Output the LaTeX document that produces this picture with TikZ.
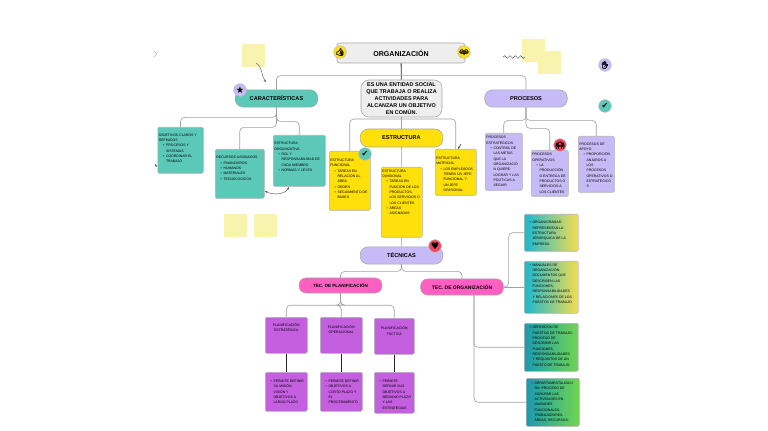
\documentclass[tikz,border=0pt]{standalone}
\usepackage{fontspec}
\setmainfont{Liberation Sans}
\newfontfamily\symfont{DejaVu Sans}
\newfontfamily\emojifont[FakeBold=3]{Noto Emoji}
\usetikzlibrary{arrows.meta, positioning, calc, decorations.pathmorphing}
\definecolor{tealc}{HTML}{5CC8B8}
\definecolor{lilac}{HTML}{C6BBF6}
\definecolor{sunny}{HTML}{FFE00A}
\definecolor{violetc}{HTML}{C45FE0}
\definecolor{pinkc}{HTML}{FF5FC0}
\definecolor{stickyc}{HTML}{F9F3B0}
\definecolor{greyc}{HTML}{EEEEEE}
\definecolor{redc}{HTML}{F4475F}
\definecolor{warmleft}{HTML}{1BB8CF}
\definecolor{warmright}{HTML}{F7DC4F}
\definecolor{coolleft}{HTML}{1A9AB0}
\definecolor{coolright}{HTML}{70D650}
% card text: outer width and height in px, top gap in pt, then the lines
\newcommand{\cardtext}[4]{\parbox[c][\dimexpr#2pt*3/4-1.6pt\relax][t]{\dimexpr#1pt*3/4-1.6pt\relax}{\fontsize{2.6}{4}\selectfont\raggedright\let\\\newline\vspace*{#3pt}#4}}
\newcommand{\bul}[1][3.2pt]{\par\hangindent=\dimexpr#1+2.2pt\relax\hangafter=1\hspace*{#1}\makebox[2.2pt][l]{\textbullet}}
\tikzset{
  pill/.style={draw=gray!70, rounded corners=6pt, minimum width=62pt, minimum height=13pt, inner sep=0pt, font=\bfseries\fontsize{4.2}{5}\selectfont},
  card/.style={draw=gray!60, rounded corners=1pt, inner sep=0.8pt, anchor=north west},
  tealcard/.style={card, fill=tealc},
  yellowcard/.style={card, fill=sunny},
  lilaccard/.style={card, fill=lilac},
  violetcard/.style={card, fill=violetc},
  warmcard/.style={card, left color=warmleft, right color=warmright},
  coolcard/.style={card, left color=coolleft, right color=coolright},
  sticky/.style={fill=stickyc, minimum width=17.25pt, minimum height=17.25pt, inner sep=0pt},
  badge/.style={circle, draw=gray!50, minimum size=9.5pt, inner sep=0pt, font=\fontsize{5.5}{5.5}\selectfont},
  link/.style={draw=gray!75, line width=0.45pt, rounded corners=3pt},
  stem/.style={draw=black!85, line width=0.6pt},
  note/.style={draw=black!70, line width=0.3pt, -{Stealth[length=2pt]}}
}
\begin{document}
\begin{tikzpicture}[x=0.75pt,y=-0.75pt]
\useasboundingbox (0,0) rectangle (768,431);
% Sticky notes
\foreach \n/\sx/\sy in {a/253.5/56,b/235.5/225.5,c/265.5/225.5,d/533.5/51,e/549.5/63} {
    \node[sticky] (sticky\n) at (\sx,\sy) {};
}
% Title and definition
\node[pill, fill=greyc, rounded corners=2pt, minimum width=96pt, minimum height=15pt, font=\bfseries\fontsize{5.3}{5}\selectfont] (org) at (401,53) {ORGANIZACIÓN};
\node[draw=gray!70, fill=greyc, rounded corners=6pt, minimum width=60.75pt, minimum height=27.75pt, inner sep=0pt, align=center, font=\bfseries\fontsize{4.1}{5.2}\selectfont] (defn) at (401.5,98.5) {ES UNA ENTIDAD SOCIAL\\QUE TRABAJA O REALIZA\\ACTIVIDADES PARA\\ALCANZAR UN OBJETIVO\\EN COMÚN.};
% Main branches
\node[pill, fill=tealc] (caract) at (276.5,98.5) {CARACTERÍSTICAS};
\node[pill, fill=lilac] (procesos) at (526,98.5) {PROCESOS};
\node[pill, fill=sunny, minimum height=13.5pt] (estructura) at (401.5,138) {ESTRUCTURA};
\node[pill, fill=lilac] (tecnicas) at (401.5,255.5) {TÉCNICAS};
\node[pill, fill=pinkc, minimum height=11.25pt, rounded corners=5pt, font=\bfseries\fontsize{3.4}{4}\selectfont] (tecplan) at (340.5,285.5) {TEC. DE PLANIFICACIÓN};
\node[pill, fill=pinkc, minimum height=12pt, rounded corners=5pt, font=\bfseries\fontsize{3.75}{4}\selectfont] (tecorg) at (462,287) {TEC. DE ORGANIZACIÓN};
% Caracteristicas cards
\node[tealcard] (objetivos) at (157.5,127) {\cardtext{45.5}{46}{4}{OBJETIVOS CLAROS Y\\DEFINIDOS\bul PROCESOS Y\\SISTEMAS\bul COORDINAR EL\\TRABAJO}};
\node[tealcard] (recursos) at (215,149) {\cardtext{49}{49}{4.5}{RECURSOS ASIGNADOS\bul FINANCIEROS\bul HUMANOS\bul MATERIALES\bul TECNOLOGICOS}};
\node[tealcard] (estorg) at (273,135) {\cardtext{52}{51}{4.5}{ESTRUCTURA\\ORGANIZATIVA\bul ROL Y\\RESPONSABILIDAD DE\\CADA MIEMBRO\bul NORMAS Y LEYES}};
% Estructura cards
\node[yellowcard] (funcional) at (329,151) {\cardtext{41}{59}{5}{ESTRUCTURA\\FUNCIONAL\bul TAREAS EN\\RELACIÓN AL\\ÁREA\bul ORDEN\bul SEGUIMIENTO DE\\BASES}};
\node[yellowcard] (divisional) at (381,167) {\cardtext{41}{70}{1}{ESTRUCTURA\\DIVISIONAL\bul TAREAS EN\\FUNCIÓN DE LOS\\PRODUCTOS,\\LOS SERVICIOS O\\LOS CLIENTES\bul ÁREAS\\ASIGNADAS}};
\node[yellowcard] (matricial) at (435,149) {\cardtext{41}{46}{5}{ESTRUCTURA\\MATRICIAL\bul LOS EMPLEADOS\\TIENEN UN JEFE\\FUNCIONAL Y\\UN JEFE\\DIVISIONAL}};
% Procesos cards
\node[lilaccard] (estrat) at (485,133) {\cardtext{37}{57}{1.5}{PROCESOS\\ESTRATÉGICOS\bul CONTROL DE\\LAS METAS\\QUE LA\\ORGANIZACIÓ\\N QUIERE\\LOGRAR Y LAS\\POLÍTICAS A\\SEGUIR}};
\node[lilaccard] (operat) at (531,150) {\cardtext{37}{46}{1.5}{PROCESOS\\OPERATIVOS\bul LA\\PRODUCCIÓN\\O ENTREGA DE\\PRODUCTOS O\\SERVICIOS A\\LOS CLIENTES}};
\node[lilaccard] (apoyo) at (578,136) {\cardtext{36}{56}{4}{PROCESOS DE\\APOYO\bul PROPORCIÓN\\ANJAROS A\\LOS\\PROCESOS\\OPERATIVOS O\\ESTRATÉGICO\\S}};
% Planificacion cards
\node[violetcard] (planest) at (265,317) {\cardtext{42}{36}{3.5}{\centering PLANIFICACIÓN\\ESTRATÉGICA}};
\node[violetcard] (planop) at (320,317) {\cardtext{42}{36}{5}{\centering PLANIFICACIÓN\\OPERACIONAL}};
\node[violetcard] (plantac) at (374,318) {\cardtext{40}{36}{5.5}{\centering PLANIFICACIÓN\\TÁCTICA}};
\node[violetcard] (detest) at (265,372) {\cardtext{42}{39}{5}{\bul PERMITE DEFINIR\\SU MISIÓN,\\VISIÓN Y\\OBJETIVOS A\\LARGO PLAZO}};
\node[violetcard] (detop) at (320,372) {\cardtext{42}{39}{5}{\bul PERMITE DEFINIR\bul OBJETIVOS A\\CORTO PLAZO Y\\EL\\PROCEDIMIENTO}};
\node[violetcard] (dettac) at (374,372) {\cardtext{40}{41}{5}{\bul PERMITE\\DEFINIR SUS\\OBJETIVOS A\\MEDIANO PLAZO\\Y LAS\\ESTRATEGIAS}};
% Organizacion cards
\node[warmcard] (organig) at (524,214) {\cardtext{54}{37}{4.5}{\bul ORGANIGRAMAS:\\REPRESENTAN LA\\ESTRUCTURA\\JERÁRQUICA DE LA\\EMPRESA}};
\node[warmcard] (manuales) at (524,261) {\cardtext{54}{52}{1}{\bul MANUALES DE\\ORGANIZACIÓN:\\DOCUMENTOS QUE\\DESCRIBEN LAS\\FUNCIONES,\\RESPONSABILIDADES\\Y RELACIONES DE LOS\\PUESTOS DE TRABAJO}};
\node[coolcard] (puestos) at (524,323) {\cardtext{54}{48}{1}{\bul DEFINICIÓN DE\\PUESTOS DE TRABAJO:\\PROCESO DE\\DESCRIBIR LAS\\FUNCIONES,\\RESPONSABILIDADES\\Y REQUISITOS DE UN\\PUESTO DE TRABAJO.}};
\node[coolcard] (depto) at (526,378) {\cardtext{53}{48}{2}{\bul DEPARTAMENTALIZACI\\ÓN: PROCESO DE\\AGRUPAR LAS\\ACTIVIDADES EN\\UNIDADES\\FUNCIONALES,\\TRABAJADORES,\\ÁREAS, RECURSOS.}};
% Connectors
\draw[stem] (org) -- (defn);
\draw[link] (caract.north) -- ++(0,-14) -| (procesos.north);
\draw[link] (funcional.north) -- ++(0,-32) -| (matricial.north);
\draw[link] (defn) -- (estructura);
\draw[link] (estructura) -- (divisional);
\draw[link] (divisional) -- (tecnicas);
\foreach \c/\d in {objetivos/10,recursos/20,estorg/14} {
    \draw[link] (caract.south) -- ++(0,\d) -| (\c.north);
}
\foreach \c/\d in {estrat/13,operat/21,apoyo/13} {
    \draw[link] (procesos.south) -- ++(0,\d) -| (\c.north);
}
\draw[link] (tecnicas.south) -- ++(0,7) -| (tecplan.north);
\draw[link] (tecnicas.south) -- ++(0,7) -| (tecorg.north);
\foreach \c/\d in {planest/12,planop/12,plantac/12} {
    \draw[link] (tecplan.south) -- ++(0,\d) -| (\c.north);
}
\draw[stem] (planest) -- (detest);
\draw[stem] (planop) -- (detop);
\draw[stem] (plantac) -- (dettac);
\draw[link] (tecorg.east) -- ++(5,0) |- (organig.west);
\draw[link] (tecorg.east) -- (manuales.west |- tecorg.east);
\draw[link] ([xshift=9pt]tecorg.south) |- (puestos.west);
\draw[link] ([xshift=9pt]tecorg.south) |- (depto.west);
% Badges
\node[badge, fill=sunny, font=\emojifont\fontsize{5.5}{5.5}\selectfont] (thumb) at (340,52) {👍};
\node[badge, fill=sunny, font=\emojifont\fontsize{5.5}{5.5}\selectfont] (people) at (464,52) {👫};
\node[badge, fill=lilac, font=\symfont\fontsize{7}{7}\selectfont] (star) at (240,90) {★};
\node[badge, fill=tealc, font=\symfont\fontsize{6}{6}\selectfont] (check) at (365,154) {✔};
\node[badge, fill=redc, font=\symfont\fontsize{7}{7}\selectfont] (heart) at (435,246) {♥};
\node[badge, fill=redc, font=\emojifont\fontsize{5.5}{5.5}\selectfont] (crowd) at (560,145) {🙌};
\node[badge, fill=lilac, font=\emojifont\fontsize{5.5}{5.5}\selectfont] (hand) at (605,65) {✋};
\node[badge, fill=tealc, font=\symfont\fontsize{6}{6}\selectfont] (checkb) at (605,106) {✔};
% Hand drawn marks
\coordinate (notea) at (256,63);
\coordinate (noteb) at (266,82);
\coordinate (notec) at (265,191);
\coordinate (noted) at (289,187);
\coordinate (notee) at (503,57);
\coordinate (notef) at (525,57);
\coordinate (noteg) at (461,144);
\coordinate (noteh) at (458,149);
\coordinate (notei) at (155,164);
\coordinate (notej) at (157,167);
\draw[note] (notea) .. controls (263,67) and (261,76) .. (noteb);
\draw[note, {Stealth[length=2pt]}-{Stealth[length=2pt]}] (notec) .. controls (272,195) and (285,195) .. (noted);
\draw[draw=black!70, line width=0.3pt, decorate, decoration={snake, amplitude=1pt, segment length=4pt}] (notee) -- (notef);
\draw[note, line width=0.5pt] (noteg) -- (noteh);
\draw[note] (notej) -- (notei);
\draw[gray!60, line width=0.5pt] (154,51) -- (157,54) -- (154,57);
\end{tikzpicture}
\end{document}
